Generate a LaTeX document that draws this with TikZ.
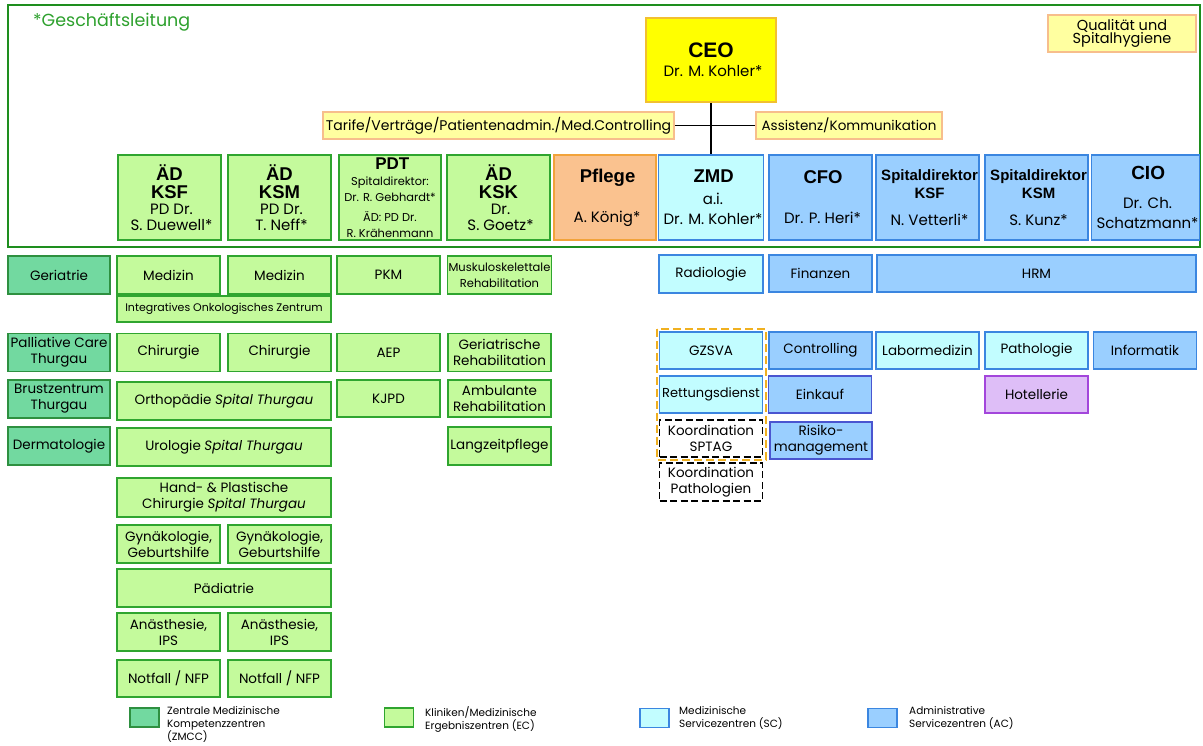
\documentclass[tikz,border=0pt]{standalone}
\usepackage{fontspec}
\setmainfont{Poppins}
\newfontfamily\hdfont{Liberation Sans}
\usetikzlibrary{positioning}

\definecolor{gframe}{HTML}{1E8E1E}
\definecolor{gltext}{HTML}{2DA02D}
\definecolor{ecfill}{HTML}{C4FA9C}
\definecolor{ecdraw}{HTML}{2FA52F}
\definecolor{zmfill}{HTML}{72D9A0}
\definecolor{zmdraw}{HTML}{2E9040}
\definecolor{scfill}{HTML}{C2FDFF}
\definecolor{acfill}{HTML}{9ACFFF}
\definecolor{bldraw}{HTML}{3B86E0}
\definecolor{eidraw}{HTML}{4A55D0}
\definecolor{pffill}{HTML}{FAC28F}
\definecolor{pfdraw}{HTML}{F2A33A}
\definecolor{ceofill}{HTML}{FFFF00}
\definecolor{ceodraw}{HTML}{F2C030}
\definecolor{stfill}{HTML}{FFFFA0}
\definecolor{stdraw}{HTML}{F7BE8C}
\definecolor{hofill}{HTML}{DEBEF7}
\definecolor{hodraw}{HTML}{A346DB}
\definecolor{dorange}{HTML}{F0B020}

\newcommand{\hd}[1][18.5]{\hdfont\bfseries\fontsize{#1}{16}\selectfont}
\newcommand{\nm}[1][13.5]{\normalfont\fontsize{#1}{16}\selectfont}
\newcommand{\sm}{\normalfont\fontsize{11.4}{11.5}\selectfont}

\tikzset{
  unit/.style={rectangle, inner sep=1pt, align=center, line width=1.8pt, font=\nm},
  boxwh/.style 2 args={minimum width=#1pt, minimum height=#2pt},
  ec/.style={unit, fill=ecfill, draw=ecdraw},
  zm/.style={unit, fill=zmfill, draw=zmdraw},
  sc/.style={unit, fill=scfill, draw=bldraw},
  ac/.style={unit, fill=acfill, draw=bldraw},
  stab/.style={unit, fill=stfill, draw=stdraw},
  koord/.style={unit, fill=white, draw=black, line width=1.4pt, dash pattern=on 7pt off 3.5pt},
  legtext/.style={anchor=north west, inner sep=0pt, align=left, font={\fontsize{10.5}{13}\selectfont}}
}

\begin{document}
\begin{tikzpicture}[x=1pt,y=-1pt]
\useasboundingbox (0,0) rectangle (1203,746);

% Geschaeftsleitung
\draw[gframe, line width=2.2pt] (8,5) rectangle (1200,247);
\node[anchor=west, inner sep=0pt, text=gltext, font={\nm[17.5]}] (gl) at (33,22) {*Geschäftsleitung};

\node[unit, fill=ceofill, draw=ceodraw, boxwh={130}{84}] (ceo) at (711,60) {\hd[21]CEO\\[3pt]\nm[15] Dr. M. Kohler*};
\node[stab, boxwh={148}{37}, font={\fontsize{14.5}{13.5}\selectfont}] (qual) at (1122,33.5) {Qualität und\\Spitalhygiene};
\node[stab, boxwh={351}{27}, font={\nm[14]}] (tarife) at (498.5,125.5) {Tarife/Verträge/Patientenadmin./Med.Controlling};
\node[stab, boxwh={186}{27}] (assist) at (849,125.5) {Assistenz/Kommunikation};

\node[ec, boxwh={103}{85}] (ksf) at (169.5,197.5) {\hd ÄD\\[2pt]\hd KSF\\\nm[15] PD Dr.\\\nm[15] S. Duewell*};
\node[ec, boxwh={103}{85}] (ksm) at (279.5,197.5) {\hd ÄD\\[2pt]\hd KSM\\\nm[15] PD Dr.\\\nm[15] T. Neff*};
\node[ec, boxwh={102}{85}] (pdt) at (390,197.5) {\hd[17] PDT\\\sm Spitaldirektor:\\\sm Dr. R. Gebhardt*\\[4pt]\sm ÄD: PD Dr.\\\sm R. Krähenmann};
\node[ec, boxwh={103}{85}] (ksk) at (498.5,197.5) {\hd ÄD\\[2pt]\hd KSK\\\nm[15] Dr.\\\nm[15] S. Goetz*};
\node[unit, fill=pffill, draw=pfdraw, boxwh={102}{85}] (pflege) at (605,197.5) {\hd[18.5] Pflege\\[24pt]\nm[15] A. König*};
\node[sc, boxwh={102}{85}] (zmd) at (711,197.5) {\hd[18.5] ZMD\\[6pt]\nm[15] a.i.\\[4pt]\nm[15] Dr. M. Kohler*};
\node[ac, boxwh={103}{85}] (cfo) at (820.5,197.5) {\hd[18.5] CFO\\[24pt]\nm[15] Dr. P. Heri*};
\node[ac, boxwh={103}{85}] (spksf) at (927.5,197.5) {\hd[15] Spitaldirektor\\[2pt]\hd[15] KSF\\[11pt]\nm[15] N. Vetterli*};
\node[ac, boxwh={103}{85}] (spksm) at (1036.5,197.5) {\hd[15] Spitaldirektor\\[2pt]\hd[15] KSM\\[11pt]\nm[15] S. Kunz*};
\node[ac, boxwh={103}{85}] (cio) at (1145.5,197.5) {\hd[19] CIO\\[13pt]\nm[15] Dr. Ch.\\[4pt]\nm[15] Schatzmann*};

\draw[line width=1.4pt] (tarife.east) -- (assist.west);
\draw[line width=1.4pt] (ceo.south) -- (zmd.north);

% ZMCC
\node[zm, boxwh={102}{38}] (geri) at (59,275) {Geriatrie};
\node[zm, boxwh={102}{38}] (pal) at (59,352.5) {Palliative Care\\Thurgau};
\node[zm, boxwh={102}{38}] (brust) at (59,399) {Brustzentrum\\Thurgau};
\node[zm, boxwh={102}{38}] (derm) at (59,446) {Dermatologie};

% Kliniken
\node[ec, boxwh={103}{38}] (med1) at (168.5,275) {Medizin};
\node[ec, boxwh={103}{38}] (med2) at (279.5,275) {Medizin};
\node[ec, boxwh={103}{38}] (pkm) at (388.5,275) {PKM};
\node[ec, boxwh={103}{38}, font={\nm[11.5]}] (musk) at (499.5,275) {Muskuloskelettale\\Rehabilitation};
\node[ec, boxwh={214}{26}, font={\nm[11]}] (ioz) at (224,309) {Integratives Onkologisches Zentrum};
\node[ec, boxwh={103}{38}] (chir1) at (168.5,352.5) {Chirurgie};
\node[ec, boxwh={103}{38}] (chir2) at (279.5,352.5) {Chirurgie};
\node[ec, boxwh={103}{38}] (aep) at (388.5,352.5) {AEP};
\node[ec, boxwh={103}{38}] (gerreh) at (499.5,352.5) {Geriatrische\\Rehabilitation};
\node[ec, boxwh={214}{38}] (ortho) at (224,401) {Orthopädie \textit{Spital Thurgau}};
\node[ec, boxwh={103}{37}] (kjpd) at (388.5,398.5) {KJPD};
\node[ec, boxwh={103}{37}] (ambreh) at (499.5,398.5) {Ambulante\\Rehabilitation};
\node[ec, boxwh={214}{38}] (uro) at (224,447) {Urologie \textit{Spital Thurgau}};
\node[ec, boxwh={103}{38}] (lzp) at (499.5,446) {Langzeitpflege};
\node[ec, boxwh={214}{39}] (hand) at (224,497.5) {Hand- \& Plastische\\Chirurgie \textit{Spital Thurgau}};
\node[ec, boxwh={103}{38}] (gyn1) at (168.5,544) {Gynäkologie,\\Geburtshilfe};
\node[ec, boxwh={103}{38}] (gyn2) at (279.5,544) {Gynäkologie,\\Geburtshilfe};
\node[ec, boxwh={214}{38}] (paed) at (224,588) {Pädiatrie};
\node[ec, boxwh={103}{38}] (anae1) at (168.5,632) {Anästhesie,\\IPS};
\node[ec, boxwh={103}{38}] (anae2) at (279.5,632) {Anästhesie,\\IPS};
\node[ec, boxwh={103}{37}] (notf1) at (168.5,678.5) {Notfall / NFP};
\node[ec, boxwh={103}{37}] (notf2) at (279.5,678.5) {Notfall / NFP};

% Service
\node[sc, boxwh={104}{38}] (radio) at (711,274) {Radiologie};
\node[ac, boxwh={103}{37}] (fin) at (820.5,273.5) {Finanzen};
\node[ac, boxwh={319}{37}] (hrm) at (1036.5,273.5) {HRM};
\draw[dorange, line width=2pt, dash pattern=on 8pt off 4pt] (657,329) rectangle (766,460);
\node[sc, boxwh={103}{37}] (gzsva) at (711,350.5) {GZSVA};
\node[ac, boxwh={103}{37}] (contr) at (820.5,350.5) {Controlling};
\node[sc, boxwh={103}{37}] (labor) at (927.5,350.5) {Labormedizin};
\node[sc, boxwh={103}{37}] (path) at (1036.5,350.5) {Pathologie};
\node[ac, boxwh={103}{37}] (info) at (1145,350.5) {Informatik};
\node[sc, boxwh={103}{37}, font={\nm[13]}] (rett) at (711,394.5) {Rettungsdienst};
\node[ac, draw=eidraw, boxwh={103}{37}] (eink) at (820,394.5) {Einkauf};
\node[unit, fill=hofill, draw=hodraw, boxwh={103}{37}] (hotel) at (1036.5,394.5) {Hotellerie};
\node[koord, boxwh={103}{37}] (sptag) at (711,438.5) {Koordination\\SPTAG};
\node[ac, draw=eidraw, boxwh={102}{37}] (risk) at (821,440.5) {Risiko-\\management};
\node[koord, boxwh={103}{38}] (patho) at (711,482) {Koordination\\Pathologien};

% Legende
\node[zm, boxwh={29}{19}, line width=1.5pt] (lzm) at (144.5,717.5) {};
\node[legtext] (lzmt) at (167,706) {Zentrale Medizinische\\Kompetenzzentren\\(ZMCC)};
\node[ec, boxwh={29}{19}, line width=1.5pt] (lec) at (399,717.5) {};
\node[legtext] (lect) at (425,706) {Kliniken/Medizinische\\Ergebniszentren (EC)};
\node[sc, boxwh={29}{19}, line width=1.5pt] (lsc) at (654.5,718) {};
\node[legtext] (lsct) at (679,706) {Medizinische\\Servicezentren (SC)};
\node[ac, boxwh={29}{19}, line width=1.5pt] (lac) at (882.5,718) {};
\node[legtext] (lact) at (909,706) {Administrative\\Servicezentren (AC)};
\end{tikzpicture}
\end{document}
